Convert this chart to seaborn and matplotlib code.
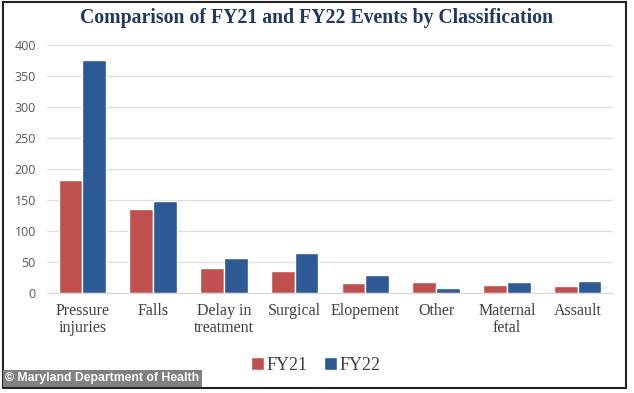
# FY21 vs FY22 events by classification
import pandas as pd
import matplotlib
matplotlib.use("Agg")
import matplotlib.pyplot as plt
import seaborn as sb
from matplotlib.patches import Rectangle

# values
categories = ['Pressure\ninjuries', 'Falls', 'Delay in\ntreatment', 'Surgical',
              'Elopement', 'Other', 'Maternal\nfetal', 'Assault']
fy21 = [183, 136, 40, 36, 17, 18, 13, 11]
fy22 = [375, 148, 57, 64, 30, 9, 18, 20]
years = ['FY21', 'FY22']
colors = ['#c0504d', '#2d5a94']

df = pd.DataFrame({
    'category': categories * 2,
    'year': [years[0]] * len(categories) + [years[1]] * len(categories),
    'events': fy21 + fy22,
})

sb.set_style('white')
serif = ['Liberation Serif', 'DejaVu Serif']

fig = plt.figure(figsize=(6.34, 3.93), dpi=100)
ax = fig.add_axes([0.074, 0.254, 0.893, 0.632])

sb.barplot(data=df, x='category', y='events', hue='year', palette=colors,
           width=0.67, saturation=1, ax=ax, legend=True)

ax.set_ylim(0, 400)
ax.set_yticks(range(0, 401, 50))
ax.yaxis.grid(True, color='#e0e0e0', linewidth=1)
ax.set_axisbelow(True)
for s in ['top', 'left', 'right']:
    ax.spines[s].set_visible(False)
ax.spines['bottom'].set_color('#d9d9d9')
ax.set_xlabel('')
ax.set_ylabel('')
ax.tick_params(axis='both', length=0)
ax.tick_params(axis='y', labelsize=9, labelcolor='#595959', pad=8)
for lbl in ax.get_yticklabels():
    lbl.set_family(['Open Sans', 'DejaVu Sans'])
ax.tick_params(axis='x', labelsize=11.5, labelcolor='#404040', pad=7)
for lbl in ax.get_xticklabels():
    lbl.set_family(serif)
    lbl.set_linespacing(1.1)

ax.legend(loc='upper center', bbox_to_anchor=(0.475, -0.19), ncol=2, frameon=False,
          prop={'family': serif, 'size': 13}, handlelength=0.7, handleheight=0.7,
          handletextpad=0.15, columnspacing=0.9, labelcolor='#404040')

fig.text(0.5, 0.953, 'Comparison of FY21 and FY22 Events by Classification',
         ha='center', va='center', family=serif, fontweight='bold',
         fontsize=14.2, color='#1f3864')

# outer frame
fig.patches.append(Rectangle((0.004, 0.012), 0.984, 0.982, transform=fig.transFigure,
                             fill=False, edgecolor='#222222', linewidth=1.5))
# watermark
fig.text(0.008, 0.022, '\u00a9 Maryland Department of Health', ha='left', va='bottom',
         fontsize=8.8, fontweight='bold', color='white', family=['Liberation Sans', 'DejaVu Sans'],
         bbox=dict(boxstyle='square,pad=0.2', facecolor='#808080', edgecolor='none'))

plt.savefig('out.png', dpi=100)
